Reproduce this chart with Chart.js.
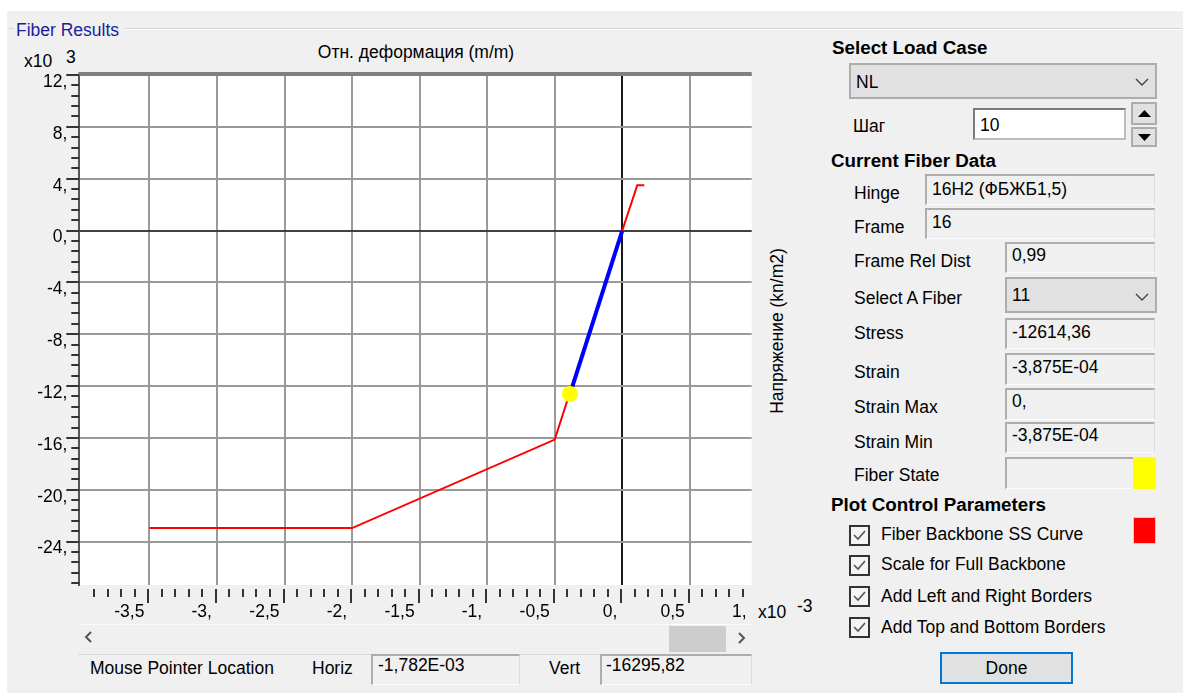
<!DOCTYPE html>
<html>
<head>
<meta charset="utf-8">
<script src="https://cdn.jsdelivr.net/npm/chart.js@4.4.1/dist/chart.umd.min.js"></script>
<style>
  html, body { margin: 0; padding: 0; }
  body { width: 1194px; height: 693px; background: #fff; position: relative; overflow: hidden;
         font-family: "Liberation Sans", Arial, sans-serif; font-size: 17.5px; color: #000; }
  #win { position: absolute; left: 7px; top: 11px; width: 1176px; height: 682px; background: #f0f0f0; }
  .t { position: absolute; white-space: nowrap; line-height: 20px; height: 20px; }
  .hd { font-weight: bold; font-size: 18.8px; }
  .box { position: absolute; box-sizing: border-box; background: #f0f0f0;
         border-top: 2px solid #adadad; border-left: 2px solid #adadad;
         border-right: 1px solid #dcdcdc; border-bottom: 1px solid #fcfcfc; }
  .combo { position: absolute; box-sizing: border-box; background: #e1e1e1; border: 2px solid #adadad; }
  .chk { position: absolute; box-sizing: border-box; width: 21px; height: 21px; border: 2px solid #333; background: #f4f4f4; }
  .hl { position: absolute; height: 1px; }
  canvas#chart { position: absolute; left: 8px; top: 30px; }
</style>
</head>
<body>
<div id="win"></div>

<!-- group box -->
<div class="hl" style="left:8px;top:28px;width:6px;background:#d5d5d5"></div>
<div class="hl" style="left:124px;top:28px;width:1058px;background:#d5d5d5"></div>
<div class="hl" style="left:124px;top:29px;width:1058px;background:#fff"></div>
<div class="t" style="left:16px;top:20px;color:#1c1c9e">Fiber Results</div>

<!-- plot texts -->
<div class="t" style="left:24px;top:51px">x10</div>
<div class="t" style="left:66px;top:47px">3</div>
<div class="t" style="left:416px;top:42px;transform:translateX(-50%)">Отн. деформация (m/m)</div>
<div class="t" style="left:777px;top:321px;transform:translateX(-50%) rotate(-90deg);transform-origin:50% 50%">Напряжение (kn/m2)</div>
<div class="t" style="left:758px;top:602px">x10</div>
<div class="t" style="left:797px;top:596px">-3</div>

<canvas id="chart" width="790" height="600"></canvas>

<!-- scrollbar -->
<div class="hl" style="left:78px;top:624px;width:674px;background:#fbfbfb"></div>
<div class="hl" style="left:78px;top:654px;width:674px;background:#d9d9d9"></div>
<div style="position:absolute;left:669px;top:626px;width:57px;height:26px;background:#cdcdcd"></div>
<svg style="position:absolute;left:84px;top:631px" width="9" height="12"><polyline points="7,1 2,6 7,11" fill="none" stroke="#555" stroke-width="2"/></svg>
<svg style="position:absolute;left:737px;top:632px" width="9" height="12"><polyline points="2,1 7,6 2,11" fill="none" stroke="#555" stroke-width="2"/></svg>

<!-- mouse pointer location -->
<div class="t" style="left:90px;top:658px">Mouse Pointer Location</div>
<div class="t" style="left:312px;top:658px">Horiz</div>
<div class="box" style="left:371px;top:654px;width:149px;height:31px"></div>
<div class="t" style="left:378px;top:655px">-1,782E-03</div>
<div class="t" style="left:549px;top:658px">Vert</div>
<div class="box" style="left:600px;top:654px;width:152px;height:31px"></div>
<div class="t" style="left:606px;top:655px">-16295,82</div>

<!-- right panel -->
<div class="t hd" style="left:832px;top:38px">Select Load Case</div>
<div class="combo" style="left:849px;top:63px;width:308px;height:36px"></div>
<div class="t" style="left:856px;top:72px">NL</div>
<svg style="position:absolute;left:1135px;top:78px" width="14" height="8"><polyline points="1,1 7,7 13,1" fill="none" stroke="#444" stroke-width="1.4"/></svg>

<div class="t" style="left:853px;top:116px">Шаг</div>
<div style="position:absolute;left:973px;top:108px;width:153px;height:32px;box-sizing:border-box;background:#fff;border:2px solid #7a7a7a;border-right-color:#bcbcbc;border-bottom-color:#bcbcbc"></div>
<div class="t" style="left:980px;top:115px">10</div>
<div style="position:absolute;left:1131px;top:102px;width:26px;height:23px;box-sizing:border-box;background:#e1e1e1;border:2px solid #adadad"></div>
<div style="position:absolute;left:1131px;top:127px;width:26px;height:20px;box-sizing:border-box;background:#e1e1e1;border:2px solid #adadad"></div>
<svg style="position:absolute;left:1138px;top:110px" width="13" height="7"><polygon points="0,7 6.5,0 13,7" fill="#000"/></svg>
<svg style="position:absolute;left:1138px;top:134px" width="13" height="7"><polygon points="0,0 6.5,7 13,0" fill="#000"/></svg>

<div class="t hd" style="left:831px;top:151px">Current Fiber Data</div>
<div class="t" style="left:854px;top:183px">Hinge</div>
<div class="box" style="left:925px;top:174px;width:230px;height:31px"></div>
<div class="t" style="left:932px;top:179px">16H2 (ФБЖБ1,5)</div>
<div class="t" style="left:854px;top:217px">Frame</div>
<div class="box" style="left:925px;top:208px;width:230px;height:31px"></div>
<div class="t" style="left:932px;top:212px">16</div>

<div class="t" style="left:854px;top:251px">Frame Rel Dist</div>
<div class="box" style="left:1005px;top:242px;width:150px;height:31px"></div>
<div class="t" style="left:1012px;top:245px">0,99</div>

<div class="t" style="left:854px;top:288px">Select A Fiber</div>
<div class="combo" style="left:1005px;top:277px;width:152px;height:36px"></div>
<div class="t" style="left:1012px;top:285px">11</div>
<svg style="position:absolute;left:1135px;top:293px" width="14" height="8"><polyline points="1,1 7,7 13,1" fill="none" stroke="#444" stroke-width="1.4"/></svg>

<div class="t" style="left:854px;top:323px">Stress</div>
<div class="box" style="left:1005px;top:318px;width:150px;height:31px"></div>
<div class="t" style="left:1012px;top:322px">-12614,36</div>

<div class="t" style="left:854px;top:362px">Strain</div>
<div class="box" style="left:1005px;top:353px;width:150px;height:32px"></div>
<div class="t" style="left:1012px;top:357px">-3,875E-04</div>

<div class="t" style="left:854px;top:397px">Strain Max</div>
<div class="box" style="left:1005px;top:388px;width:150px;height:32px"></div>
<div class="t" style="left:1012px;top:391px">0,</div>

<div class="t" style="left:854px;top:432px">Strain Min</div>
<div class="box" style="left:1005px;top:422px;width:150px;height:31px"></div>
<div class="t" style="left:1012px;top:425px">-3,875E-04</div>

<div class="t" style="left:854px;top:465px">Fiber State</div>
<div class="box" style="left:1005px;top:457px;width:150px;height:32px"></div>
<div style="position:absolute;left:1133px;top:457px;width:23px;height:32px;background:#ffff00"></div>

<div class="t hd" style="left:831px;top:495px">Plot Control Parameters</div>
<div class="chk" style="left:849px;top:525px"></div>
<div class="chk" style="left:849px;top:555px"></div>
<div class="chk" style="left:849px;top:586px"></div>
<div class="chk" style="left:849px;top:617px"></div>
<svg style="position:absolute;left:849px;top:525px" width="21" height="112">
  <polyline points="5,10 9,14 16,6" fill="none" stroke="#555" stroke-width="1.6"/>
  <polyline points="5,40 9,44 16,36" fill="none" stroke="#555" stroke-width="1.6"/>
  <polyline points="5,71 9,75 16,67" fill="none" stroke="#555" stroke-width="1.6"/>
  <polyline points="5,102 9,106 16,98" fill="none" stroke="#555" stroke-width="1.6"/>
</svg>
<div class="t" style="left:881px;top:524px">Fiber Backbone SS Curve</div>
<div class="t" style="left:881px;top:554px">Scale for Full Backbone</div>
<div class="t" style="left:881px;top:586px">Add Left and Right Borders</div>
<div class="t" style="left:881px;top:617px">Add Top and Bottom Borders</div>
<div style="position:absolute;left:1133px;top:517px;width:23px;height:27px;box-sizing:border-box;background:#ff0000;border:1px solid #d0d0d0"></div>

<div style="position:absolute;left:940px;top:652px;width:133px;height:32px;box-sizing:border-box;background:#e1e1e1;border:2px solid #0078d7;text-align:center;line-height:28px">Done</div>

<script>
  // значения в единицах осей: деформация x10^-3 m/m, напряжение x10^3 kn/m2
  const strainBackbone = [-3.5, -2.0, -0.5, 0, 0.111, 0.163];
  const stressBackbone = [-22.96, -22.96, -16.13, 0, 3.49, 3.49];
  const strainPath = [0, -0.3875];
  const stressPath = [0, -12.61436];
  const strainFiber = [-0.3875];
  const stressFiber = [-12.61436];

  const xTickValues = [-3.5, -3, -2.5, -2, -1.5, -1, -0.5, 0, 0.5, 1];
  const xTickLabels = ['-3,5', '-3,', '-2,5', '-2,', '-1,5', '-1,', '-0,5', '0,', '0,5', '1,'];
  const yTickValues = [12, 8, 4, 0, -4, -8, -12, -16, -20, -24];
  const yTickLabels = ['12,', '8,', '4,', '0,', '-4,', '-8,', '-12,', '-16,', '-20,', '-24,'];

  const X_MIN = -4.019, X_MAX = 0.958;
  const Y_MIN = -27.35, Y_MAX = 12;
  const X_MINOR = 0.1, Y_MINOR = 0.8;

  const FONT = { family: '"Liberation Sans", Arial, sans-serif', size: 17.5 };

  function toPoints(xs, ys) {
    return xs.map((x, i) => ({ x: x, y: ys[i] }));
  }

  // белое поле графика, рамка и засечки осей
  const plotFrame = {
    id: 'plotFrame',
    beforeDraw(chart) {
      const { ctx, chartArea: a } = chart;
      ctx.save();
      ctx.fillStyle = '#ffffff';
      ctx.fillRect(a.left, a.top, a.right - a.left, a.bottom - a.top);
      ctx.restore();
    },
    afterDraw(chart) {
      const { ctx, chartArea: a } = chart;
      const xs = chart.scales.x, ys = chart.scales.y;
      ctx.save();
      ctx.fillStyle = '#808080';
      ctx.fillRect(a.left - 1, a.top - 3, a.right - a.left + 1, 4);

      ctx.strokeStyle = '#333';
      ctx.lineWidth = 2;
      ctx.beginPath();
      for (let k = Math.ceil(X_MIN / X_MINOR); k <= Math.floor(X_MAX / X_MINOR); k++) {
        const px = Math.round(xs.getPixelForValue(k * X_MINOR)) - 1;
        if (px - a.left < 6) continue;
        const major = k % 5 === 0;
        ctx.moveTo(px, a.bottom + 4);
        ctx.lineTo(px, a.bottom + (major ? 18 : 12));
      }
      for (let k = Math.ceil(Y_MIN / Y_MINOR); k <= Math.floor(Y_MAX / Y_MINOR + 1e-9); k++) {
        const py = Math.round(ys.getPixelForValue(k * Y_MINOR));
        const major = k % 5 === 0;
        ctx.moveTo(a.left - (major ? 13 : 8), py);
        ctx.lineTo(a.left, py);
      }
      ctx.stroke();
      ctx.restore();
    }
  };

  new Chart(document.getElementById('chart'), {
    type: 'scatter',
    data: {
      datasets: [
        {
          label: 'Fiber',
          data: toPoints(strainFiber, stressFiber),
          showLine: false,
          pointRadius: 8,
          pointBackgroundColor: '#ffff00',
          pointBorderWidth: 0,
          order: 0
        },
        {
          label: 'Path',
          data: toPoints(strainPath, stressPath),
          showLine: true,
          borderColor: '#0000ff',
          borderWidth: 4,
          pointRadius: 0,
          order: 1
        },
        {
          label: 'Backbone',
          data: toPoints(strainBackbone, stressBackbone),
          showLine: true,
          borderColor: '#ff0000',
          borderWidth: 2,
          pointRadius: 0,
          order: 2
        }
      ]
    },
    options: {
      responsive: false,
      animation: false,
      events: [],
      layout: { padding: { left: 0, top: 45, right: 46.3, bottom: 0 } },
      plugins: { legend: { display: false }, tooltip: { enabled: false } },
      scales: {
        x: {
          type: 'linear',
          min: X_MIN,
          max: X_MAX,
          afterFit: s => { s.height = 45; },
          afterBuildTicks: s => { s.ticks = xTickValues.map(v => ({ value: Math.min(v, X_MAX) })); },
          ticks: {
            autoSkip: false,
            maxRotation: 0,
            align: 'end',
            labelOffset: -5,
            padding: 17,
            color: '#000',
            font: FONT,
            callback: (v, i) => xTickLabels[i]
          },
          grid: {
            drawTicks: false,
            lineWidth: 2,
            color: c => c.tick.value === 0 ? '#1a1a1a' : (c.tick.value >= X_MAX ? 'rgba(0,0,0,0)' : '#9a9a9a')
          },
          border: { display: false }
        },
        y: {
          type: 'linear',
          min: Y_MIN,
          max: Y_MAX,
          afterFit: s => { s.width = 71.3; },
          afterBuildTicks: s => { s.ticks = yTickValues.map(v => ({ value: v })); },
          ticks: {
            autoSkip: false,
            labelOffset: 7,
            padding: 12,
            color: '#000',
            font: FONT,
            callback: (v, i) => yTickLabels[i]
          },
          grid: {
            drawTicks: false,
            lineWidth: 2,
            color: c => c.tick.value === 0 ? '#404040' : '#9a9a9a'
          },
          border: { display: true, color: '#555', width: 2 }
        }
      }
    },
    plugins: [plotFrame]
  });
</script>
</body>
</html>
